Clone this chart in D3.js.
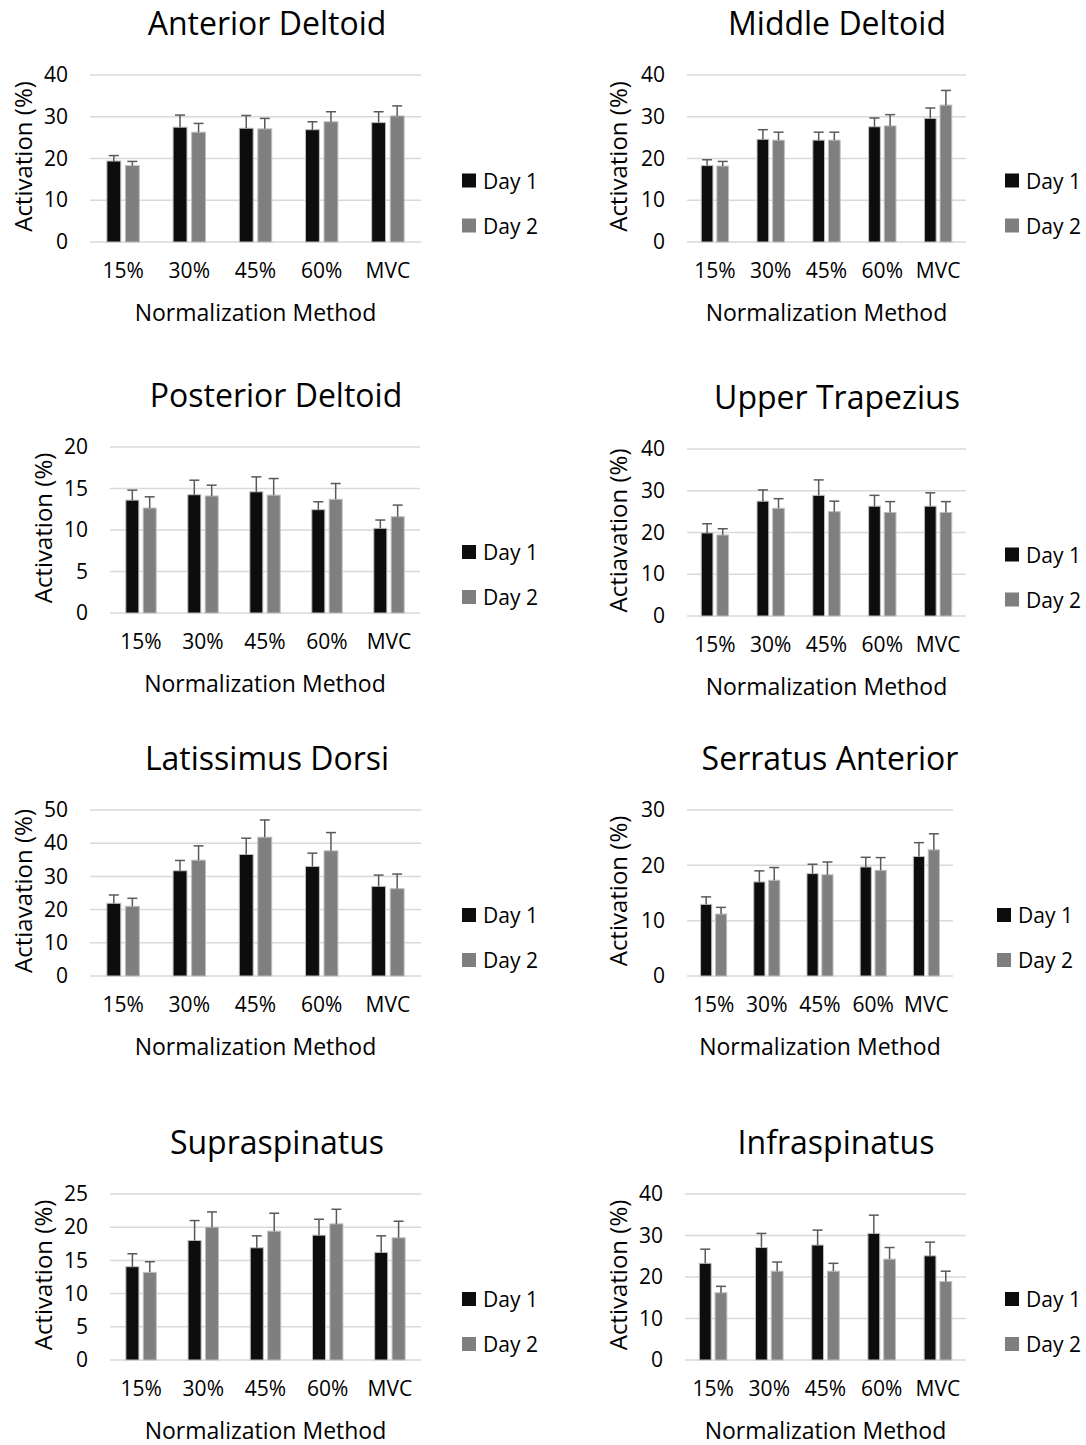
<!DOCTYPE html>
<html>
<head>
<meta charset="utf-8">
<script src="https://cdn.jsdelivr.net/npm/d3@7"></script>
<style>
  body { margin: 0; background: #fff; }
  text { font-family: "Open Sans", "Noto Sans", sans-serif; fill: #000; }
</style>
</head>
<body>
<svg id="chart" width="1086" height="1445"></svg>
<script>
// categories and series
var methods = ["15%", "30%", "45%", "60%", "MVC"];
var days = ["Day 1", "Day 2"];

// means and error (upper) per muscle
var anteriorDay1 = [19.4, 27.5, 27.25, 26.9, 28.6];
var anteriorErr1 = [1.3, 2.9, 3.05, 1.9, 2.6];
var anteriorDay2 = [18.3, 26.3, 27.1, 28.8, 30.2];
var anteriorErr2 = [1.0, 2.1, 2.5, 2.4, 2.4];

var middleDay1 = [18.3, 24.6, 24.4, 27.6, 29.6];
var middleErr1 = [1.4, 2.3, 1.9, 2.1, 2.5];
var middleDay2 = [18.2, 24.4, 24.4, 27.8, 32.8];
var middleErr2 = [1.1, 1.9, 1.9, 2.7, 3.5];

var posteriorDay1 = [13.6, 14.25, 14.6, 12.45, 10.2];
var posteriorErr1 = [1.2, 1.75, 1.8, 0.95, 1.0];
var posteriorDay2 = [12.65, 14.1, 14.2, 13.7, 11.6];
var posteriorErr2 = [1.35, 1.3, 2.0, 1.9, 1.4];

var trapDay1 = [19.9, 27.5, 28.9, 26.3, 26.3];
var trapErr1 = [2.2, 2.7, 3.7, 2.6, 3.2];
var trapDay2 = [19.4, 25.8, 25.0, 24.8, 24.8];
var trapErr2 = [1.5, 2.3, 2.5, 2.6, 2.6];

var latDay1 = [21.9, 31.7, 36.6, 33.0, 27.0];
var latErr1 = [2.5, 3.1, 4.9, 4.0, 3.4];
var latDay2 = [21.0, 34.9, 41.8, 37.7, 26.3];
var latErr2 = [2.4, 4.3, 5.2, 5.5, 4.4];

var serratusDay1 = [12.95, 17.0, 18.5, 19.7, 21.6];
var serratusErr1 = [1.35, 2.0, 1.7, 1.75, 2.5];
var serratusDay2 = [11.2, 17.3, 18.3, 19.1, 22.8];
var serratusErr2 = [1.2, 2.3, 2.3, 2.3, 2.9];

var supraDay1 = [14.05, 18.0, 16.9, 18.8, 16.2];
var supraErr1 = [1.95, 3.0, 1.8, 2.4, 2.5];
var supraDay2 = [13.2, 20.0, 19.4, 20.5, 18.4];
var supraErr2 = [1.6, 2.3, 2.7, 2.2, 2.5];

var infraDay1 = [23.3, 27.1, 27.7, 30.5, 25.1];
var infraErr1 = [3.4, 3.4, 3.6, 4.4, 3.3];
var infraDay2 = [16.2, 21.4, 21.4, 24.3, 18.9];
var infraErr2 = [1.55, 2.2, 1.9, 2.8, 2.5];

// axis ticks per panel
var ticks40 = [0, 10, 20, 30, 40];
var ticks20 = [0, 5, 10, 15, 20];
var ticks50 = [0, 10, 20, 30, 40, 50];
var ticks30 = [0, 10, 20, 30];
var ticks25 = [0, 5, 10, 15, 20, 25];

var colors = ["#0d0d0d", "#7f7f7f"];

// panel layout: plot box (x0,x1,top,zero), label positions
var panels = [
  {title: "Anterior Deltoid", ylab: "Activation (%)", d1: anteriorDay1, e1: anteriorErr1, d2: anteriorDay2, e2: anteriorErr2,
   ticks: ticks40, x0: 90, x1: 421, top: 75, zero: 242, tx: 267, ylx: 22, lx: 462},
  {title: "Middle Deltoid", ylab: "Activation (%)", d1: middleDay1, e1: middleErr1, d2: middleDay2, e2: middleErr2,
   ticks: ticks40, x0: 687, x1: 966, top: 75, zero: 242, tx: 837, ylx: 617, lx: 1005},
  {title: "Posterior Deltoid", ylab: "Activation (%)", d1: posteriorDay1, e1: posteriorErr1, d2: posteriorDay2, e2: posteriorErr2,
   ticks: ticks20, x0: 110, x1: 420, top: 447, zero: 613, tx: 276, ylx: 42, lx: 462},
  {title: "Upper Trapezius", ylab: "Actiavation (%)", d1: trapDay1, e1: trapErr1, d2: trapDay2, e2: trapErr2,
   ticks: ticks40, x0: 687, x1: 966, top: 449, zero: 616, tx: 837, ylx: 617, lx: 1005},
  {title: "Latissimus Dorsi", ylab: "Actiavation (%)", d1: latDay1, e1: latErr1, d2: latDay2, e2: latErr2,
   ticks: ticks50, x0: 90, x1: 421, top: 810, zero: 976, tx: 267, ylx: 22, lx: 462},
  {title: "Serratus Anterior", ylab: "Activation (%)", d1: serratusDay1, e1: serratusErr1, d2: serratusDay2, e2: serratusErr2,
   ticks: ticks30, x0: 687, x1: 953, top: 810, zero: 976, tx: 830, ylx: 617, lx: 997},
  {title: "Supraspinatus", ylab: "Activation (%)", d1: supraDay1, e1: supraErr1, d2: supraDay2, e2: supraErr2,
   ticks: ticks25, x0: 110, x1: 421, top: 1194, zero: 1360, tx: 277, ylx: 42, lx: 462},
  {title: "Infraspinatus", ylab: "Activation (%)", d1: infraDay1, e1: infraErr1, d2: infraDay2, e2: infraErr2,
   ticks: ticks40, x0: 685, x1: 966, top: 1194, zero: 1360, tx: 836, ylx: 617, lx: 1005}
];

var svg = d3.select("#chart");

panels.forEach(function(p) {
  var g = svg.append("g");
  var ymax = p.ticks[p.ticks.length - 1];

  var x = d3.scaleBand().domain(methods).range([p.x0, p.x1]).padding(0);
  var bw = x.bandwidth();
  var xi = d3.scaleBand().domain(days).range([bw * 0.255, bw * 0.745]).paddingInner(0.25);
  var y = d3.scaleLinear().domain([0, ymax]).range([p.zero, p.top]);

  // gridlines
  g.selectAll(".grid").data(p.ticks).enter().append("line")
    .attr("x1", p.x0).attr("x2", p.x1)
    .attr("y1", function(d) { return y(d); })
    .attr("y2", function(d) { return y(d); })
    .attr("stroke", "#d9d9d9").attr("stroke-width", 1.5);

  // y axis labels
  var yAxis = d3.axisLeft(y).tickValues(p.ticks).tickSize(0).tickPadding(22);
  var ya = g.append("g").attr("transform", "translate(" + p.x0 + ",0)").call(yAxis);
  ya.select(".domain").remove();
  ya.selectAll("text").style("font-size", "21px").attr("fill", "#000");

  // x axis labels
  var xAxis = d3.axisBottom(x).tickSize(0).tickPadding(21);
  var xa = g.append("g").attr("transform", "translate(0," + p.zero + ")").call(xAxis);
  xa.select(".domain").remove();
  xa.selectAll("text").style("font-size", "21px").attr("fill", "#000");

  var series = [
    {name: days[0], vals: p.d1, errs: p.e1, color: colors[0]},
    {name: days[1], vals: p.d2, errs: p.e2, color: colors[1]}
  ];

  series.forEach(function(s) {
    var rows = methods.map(function(m, i) { return {m: m, v: s.vals[i], e: s.errs[i]}; });
    g.selectAll(null).data(rows).enter().append("rect")
      .attr("x", function(d) { return x(d.m) + xi(s.name); })
      .attr("width", xi.bandwidth())
      .attr("y", function(d) { return y(d.v); })
      .attr("height", function(d) { return p.zero - y(d.v); })
      .attr("fill", s.color)
      .attr("stroke", "#bfbfbf").attr("stroke-width", 1);

    // error bars (upper only)
    var cx = function(d) { return x(d.m) + xi(s.name) + xi.bandwidth() / 2; };
    g.selectAll(null).data(rows).enter().append("line")
      .attr("x1", cx).attr("x2", cx)
      .attr("y1", function(d) { return y(d.v); })
      .attr("y2", function(d) { return y(d.v + d.e); })
      .attr("stroke", "#595959").attr("stroke-width", 1.5);
    g.selectAll(null).data(rows).enter().append("line")
      .attr("x1", function(d) { return cx(d) - 5; })
      .attr("x2", function(d) { return cx(d) + 5; })
      .attr("y1", function(d) { return y(d.v + d.e); })
      .attr("y2", function(d) { return y(d.v + d.e); })
      .attr("stroke", "#595959").attr("stroke-width", 1.5);
  });

  // title
  g.append("text").attr("x", p.tx).attr("y", p.top - 53)
    .attr("text-anchor", "middle").attr("dominant-baseline", "central")
    .style("font-size", "32px").text(p.title);

  // axis titles
  g.append("text").attr("x", (p.x0 + p.x1) / 2).attr("y", p.zero + 70)
    .attr("text-anchor", "middle").attr("dominant-baseline", "central")
    .style("font-size", "23px").text("Normalization Method");

  g.append("text")
    .attr("transform", "translate(" + p.ylx + "," + ((p.top + p.zero) / 2 - 2) + ") rotate(-90)")
    .attr("text-anchor", "middle").attr("dominant-baseline", "central")
    .style("font-size", "24px").text(p.ylab);

  // legend
  var ly = (p.top + p.zero) / 2 + 22;
  days.forEach(function(dname, i) {
    var yy = ly + i * 45;
    g.append("rect").attr("x", p.lx).attr("y", yy - 7).attr("width", 14).attr("height", 14)
      .attr("fill", colors[i]);
    g.append("text").attr("x", p.lx + 21).attr("y", yy)
      .attr("dominant-baseline", "central").style("font-size", "21px").text(dname);
  });
});
</script>
</body>
</html>
